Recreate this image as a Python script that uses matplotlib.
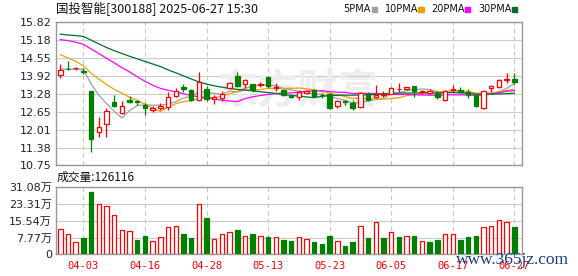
import numpy as np
import pandas as pd
import matplotlib
matplotlib.use("Agg")
import matplotlib.pyplot as plt

# trading days shown on the chart
dates = ['03-31', '04-01', '04-02', '04-03', '04-07', '04-08', '04-09', '04-10', '04-11', '04-14',
         '04-15', '04-16', '04-17', '04-18', '04-21', '04-22', '04-23', '04-24', '04-25', '04-28',
         '04-29', '04-30', '05-06', '05-07', '05-08', '05-09', '05-12', '05-13', '05-14', '05-15',
         '05-16', '05-19', '05-20', '05-21', '05-22', '05-23', '05-26', '05-27', '05-28', '05-29',
         '05-30', '06-03', '06-04', '06-05', '06-06', '06-09', '06-10', '06-11', '06-12', '06-13',
         '06-16', '06-17', '06-18', '06-19', '06-20', '06-23', '06-24', '06-25', '06-26', '06-27']

opens = [13.95, 14.15, 14.17, 14.08, 13.36, 11.92, 12.20, 12.98, 12.61, 13.06,
         13.03, 12.88, 12.72, 12.78, 12.80, 13.21, 13.50, 13.40, 13.07, 13.45,
         13.09, 13.13, 13.48, 13.92, 13.63, 13.63, 13.59, 13.86, 13.49, 13.42,
         13.19, 13.16, 13.30, 13.42, 13.25, 13.28, 12.84, 13.03, 12.96, 12.81,
         13.28, 13.15, 13.23, 13.28, 13.44, 13.44, 13.57, 13.33, 13.31, 13.32,
         13.06, 13.41, 13.40, 13.34, 13.22, 12.77, 13.48, 13.53, 13.77, 13.80]
highs = [14.33, 14.43, 14.24, 14.20, 13.36, 12.46, 12.79, 13.23, 13.01, 13.19,
         13.05, 12.97, 12.86, 12.97, 13.33, 13.48, 13.63, 13.43, 14.06, 13.54,
         13.22, 13.37, 13.71, 14.04, 13.80, 13.63, 13.69, 13.90, 13.65, 13.45,
         13.26, 13.40, 13.42, 13.45, 13.32, 13.30, 13.07, 13.07, 13.05, 13.33,
         13.33, 13.59, 13.37, 13.51, 13.67, 13.53, 13.57, 13.42, 13.45, 13.37,
         13.42, 13.60, 13.51, 13.45, 13.22, 13.42, 13.60, 13.80, 14.00, 14.00]
lows = [13.85, 14.13, 14.13, 13.97, 11.21, 11.77, 11.74, 12.81, 12.57, 12.96,
        12.90, 12.53, 12.65, 12.72, 12.72, 13.17, 13.34, 13.02, 13.02, 13.01,
        12.93, 13.02, 13.45, 13.51, 13.49, 13.33, 13.51, 13.49, 13.37, 13.21,
        13.14, 13.05, 13.26, 13.16, 13.13, 12.75, 12.79, 12.87, 12.70, 12.79,
        13.02, 13.12, 13.17, 13.26, 13.35, 13.42, 13.16, 13.28, 13.28, 13.11,
        13.04, 13.35, 13.29, 13.14, 12.80, 12.74, 13.34, 13.49, 13.65, 13.63]
closes = [14.11, 14.14, 14.19, 14.03, 11.67, 12.12, 12.67, 12.83, 12.84, 12.98,
          13.00, 12.79, 12.77, 12.86, 13.18, 13.38, 13.45, 13.07, 13.69, 13.10,
          13.16, 13.26, 13.66, 13.57, 13.75, 13.40, 13.61, 13.54, 13.52, 13.25,
          13.17, 13.34, 13.37, 13.20, 13.22, 12.78, 13.02, 12.99, 12.78, 13.30,
          13.07, 13.24, 13.26, 13.49, 13.46, 13.51, 13.39, 13.39, 13.37, 13.17,
          13.37, 13.43, 13.34, 13.22, 12.83, 13.37, 13.56, 13.77, 13.80, 13.71]

# volume in 万股, 1 = red bar, 0 = green bar
volumes = [11.9, 9.6, 5.5, 7.5, 28.6, 23.1, 22.2, 17.9, 11.2, 10.7,
           6.6, 8.4, 6.1, 7.8, 12.4, 13.0, 9.3, 7.5, 23.1, 16.7,
           7.0, 9.3, 10.3, 11.2, 8.4, 9.3, 8.4, 8.0, 7.8, 6.7,
           6.1, 8.1, 6.9, 5.7, 4.7, 8.7, 6.0, 4.1, 5.7, 12.9,
           7.5, 14.7, 7.5, 10.1, 7.8, 8.3, 8.7, 6.0, 5.7, 6.6,
           9.6, 9.2, 6.6, 7.8, 8.4, 12.4, 12.9, 15.6, 15.1, 12.6]
vol_up = [1, 1, 1, 0, 0, 1, 1, 1, 1, 1,
          0, 0, 1, 1, 1, 1, 0, 0, 1, 0,
          1, 1, 1, 0, 1, 0, 1, 0, 1, 0,
          0, 1, 1, 0, 0, 0, 1, 0, 0, 1,
          0, 1, 0, 1, 0, 1, 0, 1, 0, 0,
          1, 1, 0, 0, 0, 1, 1, 1, 1, 0]

# MA values read off the chart before the window is full (earlier data not shown)
ma5_head = [14.15, 14.15, 14.14, 14.14]
ma10_head = [14.66, 14.54, 14.42, 14.27, 14.00, 13.80, 13.60, 13.44, 13.30]
ma20_head = [15.19, 15.15, 15.10, 15.02, 14.86, 14.70, 14.53, 14.37, 14.20, 14.05,
             13.88, 13.72, 13.58, 13.47, 13.40, 13.35, 13.28, 13.22, 13.17]
ma30_head = [15.38, 15.35, 15.33, 15.30, 15.17, 15.04, 14.91, 14.80, 14.70, 14.60,
             14.51, 14.42, 14.33, 14.24, 14.12, 14.02, 13.91, 13.80, 13.70, 13.62,
             13.56, 13.51, 13.47, 13.43, 13.41, 13.38, 13.35, 13.32, 13.29]

tick_dates = ['04-03', '04-16', '04-28', '05-13', '05-23', '06-05', '06-17', '06-27']
price_ticks = [10.75, 11.38, 12.01, 12.65, 13.28, 13.92, 14.55, 15.18, 15.82]
vol_ticks = [0, 7.77, 15.54, 23.31, 31.08]
vol_labels = ['0', '7.77万', '15.54万', '23.31万', '31.08万']

RED = '#ff0000'
GREEN = '#008000'
ma_names = ['5PMA', '10PMA', '20PMA', '30PMA']
ma_colors = ['#a0a0a0', '#f0a000', '#ff00ff', '#006e32']
LABEL = '#202040'
CJK = ['Noto Sans CJK SC', 'DejaVu Sans']


def moving_avg(n, head):
    s = pd.Series(closes).rolling(n).mean()
    s.iloc[:n - 1] = head
    return s.values


x = np.arange(len(dates))
o, h, l, c = map(np.array, (opens, highs, lows, closes))
up = c >= o
tick_idx = [dates.index(d) for d in tick_dates]

fig = plt.figure(figsize=(5.78, 2.76), dpi=100)
ax1 = fig.add_axes([0.0969, 0.4004, 0.8062, 0.521])
ax2 = fig.add_axes([0.0969, 0.0779, 0.8062, 0.2457])

for ax in (ax1, ax2):
    ax.set_xlim(-0.56, 60.0)
    for s in ax.spines.values():
        s.set_color('#999999')
        s.set_linewidth(1.0)
    ax.set_xticks(tick_idx)
    ax.xaxis.grid(True, color='#c8c8c8', lw=0.8, ls=(0, (4, 3)))
    ax.yaxis.grid(True, color='#cccccc', lw=0.8)
    ax.set_axisbelow(True)
    ax.tick_params(length=0)

# price panel
ax1.set_ylim(10.75, 15.82)
ax1.set_yticks(price_ticks)
ax1.set_yticklabels([f'{v:.2f}' for v in price_ticks], color=LABEL, fontsize=8)
ax1.tick_params(axis='y', pad=3)
ax1.set_xticklabels([])

# faint site watermark behind the candles
ax1.text(0.515, 0.667, '东方财富', transform=fig.transFigure, ha='center', va='center',
         fontsize=29, fontweight='bold', color='#ededed', family=CJK, zorder=1)

mas = [moving_avg(5, ma5_head), moving_avg(10, ma10_head),
       moving_avg(20, ma20_head), moving_avg(30, ma30_head)]
for ma, col in zip(mas, ma_colors):
    ax1.plot(x, ma, color=col, lw=0.9, zorder=2)

candle_col = np.where(up, RED, GREEN)
ax1.vlines(x, l, h, colors=candle_col, lw=0.9, zorder=3)
body_h = np.maximum(np.abs(c - o), 0.012)
ax1.bar(x, body_h, bottom=np.minimum(o, c), width=0.58,
        color=np.where(up, 'white', GREEN), edgecolor=candle_col, lw=0.9, zorder=4)

# volume panel
vol_col = np.where(np.array(vol_up) == 1, RED, GREEN)
ax2.set_ylim(0, 31.08)
ax2.set_yticks(vol_ticks)
ax2.set_yticklabels(vol_labels, color=LABEL, fontsize=8, family=['DejaVu Sans', 'Noto Sans CJK SC'])
ax2.tick_params(axis='y', pad=3)
ax2.bar(x, volumes, width=0.58, color=np.where(np.array(vol_up) == 1, 'white', GREEN),
        edgecolor=vol_col, lw=0.9, zorder=3)
ax2.set_xticklabels(tick_dates, color=RED, fontsize=7.5, family='DejaVu Sans Mono')
ax2.tick_params(axis='x', pad=4.5)

# header texts
fig.text(0.0969, 0.966, '国投智能[300188] 2025-06-27 15:30', fontsize=9,
         family=CJK, va='center', ha='left', color='#111111')
leg_x = [0.593, 0.666, 0.746, 0.827]
for lx, name, col in zip(leg_x, ma_names, ma_colors):
    fig.text(lx, 0.966, name, fontsize=7, va='center', ha='left', color='#111111')
    fig.patches.append(plt.Rectangle((lx + (0.05 if len(name) == 4 else 0.058), 0.957),
                                     0.009, 0.018, transform=fig.transFigure,
                                     color=col, figure=fig))

fig.text(0.0985, 0.359, '成交量:126116', fontsize=8.5, family=CJK, va='center',
         ha='left', color='#111111')

# site stamp in the bottom-right corner (overlaps the last date labels as in the original)
fig.text(0.887, 0.058, 'www.365jz.com', fontsize=12.5, family='Liberation Serif',
         va='center', ha='center', color='#1f3c88', zorder=10)

fig.savefig('out.png', dpi=100)
